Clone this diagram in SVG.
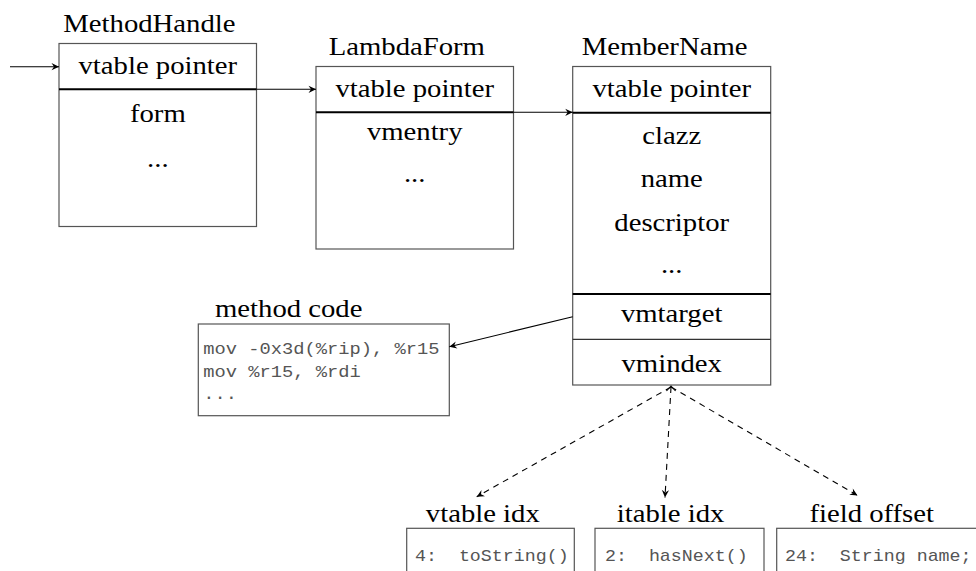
<svg xmlns="http://www.w3.org/2000/svg" width="976" height="571" viewBox="0 0 976 571">
  <style>
    .box { fill: #fff; stroke: #555; stroke-width: 1.2; }
    .div { stroke: #000; stroke-width: 2; }
    .thin { stroke: #333; stroke-width: 1.2; }
    .t { font-family: "Liberation Serif", "Times New Roman", serif; font-size: 25.3px; fill: #000; }
    .c { text-anchor: middle; }
    .m { font-family: "Liberation Mono", "Courier New", monospace; font-size: 16.2px; fill: #555; }
    .code { font-size: 16.6px; }
    .arrow { fill: none; stroke: #000; stroke-width: 1.1; marker-end: url(#tip); }
    .dash { stroke-dasharray: 6 5; }
  </style>
  <defs>
    <marker id="tip" viewBox="-8 -4 9 8" refX="0" refY="0" markerWidth="9" markerHeight="8" markerUnits="userSpaceOnUse" orient="auto">
      <path d="M0,0 L-7.5,-3.6 L-5,0 L-7.5,3.6 Z" fill="#000"/>
    </marker>
  </defs>

  <rect width="976" height="571" fill="#fff"/>

  <!-- MethodHandle object -->
  <g id="methodhandle">
    <rect class="box" x="59" y="43.5" width="197.5" height="183"/>
    <line class="div" x1="59" y1="89.3" x2="256.5" y2="89.3"/>
    <text class="t" transform="translate(63.3,31.7) scale(1.135,1)">MethodHandle</text>
    <text class="t c" transform="translate(157.8,73.8) scale(1.135,1)">vtable pointer</text>
    <text class="t c" transform="translate(157.8,121.7) scale(1.135,1)">form</text>
    <text class="t c" transform="translate(157.8,167) scale(1.135,1)">...</text>
  </g>

  <!-- LambdaForm object -->
  <g id="lambdaform">
    <rect class="box" x="316" y="66.5" width="197.5" height="182.5"/>
    <line class="div" x1="316" y1="112.3" x2="513.5" y2="112.3"/>
    <text class="t" transform="translate(328.7,54.5) scale(1.135,1)">LambdaForm</text>
    <text class="t c" transform="translate(414.7,96.7) scale(1.135,1)">vtable pointer</text>
    <text class="t c" transform="translate(414.7,140) scale(1.135,1)">vmentry</text>
    <text class="t c" transform="translate(414.7,181.7) scale(1.135,1)">...</text>
  </g>

  <!-- MemberName object -->
  <g id="membername">
    <rect class="box" x="572.7" y="66.5" width="198" height="318.5"/>
    <line class="div" x1="572.7" y1="112.7" x2="770.7" y2="112.7"/>
    <line class="div" x1="572.7" y1="294" x2="770.7" y2="294"/>
    <line class="thin" x1="572.7" y1="339.3" x2="770.7" y2="339.3"/>
    <text class="t" transform="translate(581.7,54.5) scale(1.135,1)">MemberName</text>
    <text class="t c" transform="translate(671.7,96.7) scale(1.135,1)">vtable pointer</text>
    <text class="t c" transform="translate(671.7,144) scale(1.135,1)">clazz</text>
    <text class="t c" transform="translate(671.7,187) scale(1.135,1)">name</text>
    <text class="t c" transform="translate(671.7,230.5) scale(1.135,1)">descriptor</text>
    <text class="t c" transform="translate(671.7,273.3) scale(1.135,1)">...</text>
    <text class="t c" transform="translate(671.7,321.7) scale(1.135,1)">vmtarget</text>
    <text class="t c" transform="translate(671.7,371.5) scale(1.135,1)">vmindex</text>
  </g>

  <!-- method code block -->
  <g id="methodcode">
    <rect class="box" x="198.3" y="324" width="251" height="91.7"/>
    <text class="t" transform="translate(215,316.7) scale(1.135,1)">method code</text>
    <text class="m code" transform="translate(203.3,354.3) scale(1.13,1)" xml:space="preserve">mov -0x3d(%rip), %r15</text>
    <text class="m code" transform="translate(203.3,376.8) scale(1.13,1)" xml:space="preserve">mov %r15, %rdi</text>
    <text class="m code" transform="translate(203.3,399.3) scale(1.13,1)">...</text>
  </g>

  <!-- vmindex interpretations -->
  <g id="vtableidx">
    <rect class="box" x="406.7" y="528.3" width="167.6" height="60"/>
    <text class="t c" transform="translate(482.8,522.3) scale(1.135,1)">vtable idx</text>
    <text class="m" transform="translate(415,561.3) scale(1.13,1)" xml:space="preserve">4:  toString()</text>
  </g>
  <g id="itableidx">
    <rect class="box" x="595" y="528.3" width="169" height="60"/>
    <text class="t c" transform="translate(670.6,522.3) scale(1.135,1)">itable idx</text>
    <text class="m" transform="translate(605,561.3) scale(1.13,1)" xml:space="preserve">2:  hasNext()</text>
  </g>
  <g id="fieldoffset">
    <rect class="box" x="776.7" y="528.3" width="206" height="60"/>
    <text class="t c" transform="translate(871.7,522.3) scale(1.135,1)">field offset</text>
    <text class="m" transform="translate(785,561.3) scale(1.13,1)" xml:space="preserve">24:  String name;</text>
  </g>

  <!-- pointers between objects -->
  <g id="connectors">
    <path class="arrow" d="M10,66.7 L59,66.7"/>
    <path class="arrow" d="M256.5,89.3 L316,89.3"/>
    <path class="arrow" d="M513.5,112.3 L572.7,112.3"/>
    <path class="arrow" d="M572.7,316.7 L449.3,346.7"/>
    <path class="arrow dash" d="M671,387 L476.7,496.7"/>
    <path class="arrow dash" d="M671,387 L665,497.5"/>
    <path class="arrow dash" d="M671,387 L857.5,495.5"/>
    <path d="M666.5,391 L671,386 L675.5,391" fill="none" stroke="#000" stroke-width="1.1"/>
  </g>
</svg>
